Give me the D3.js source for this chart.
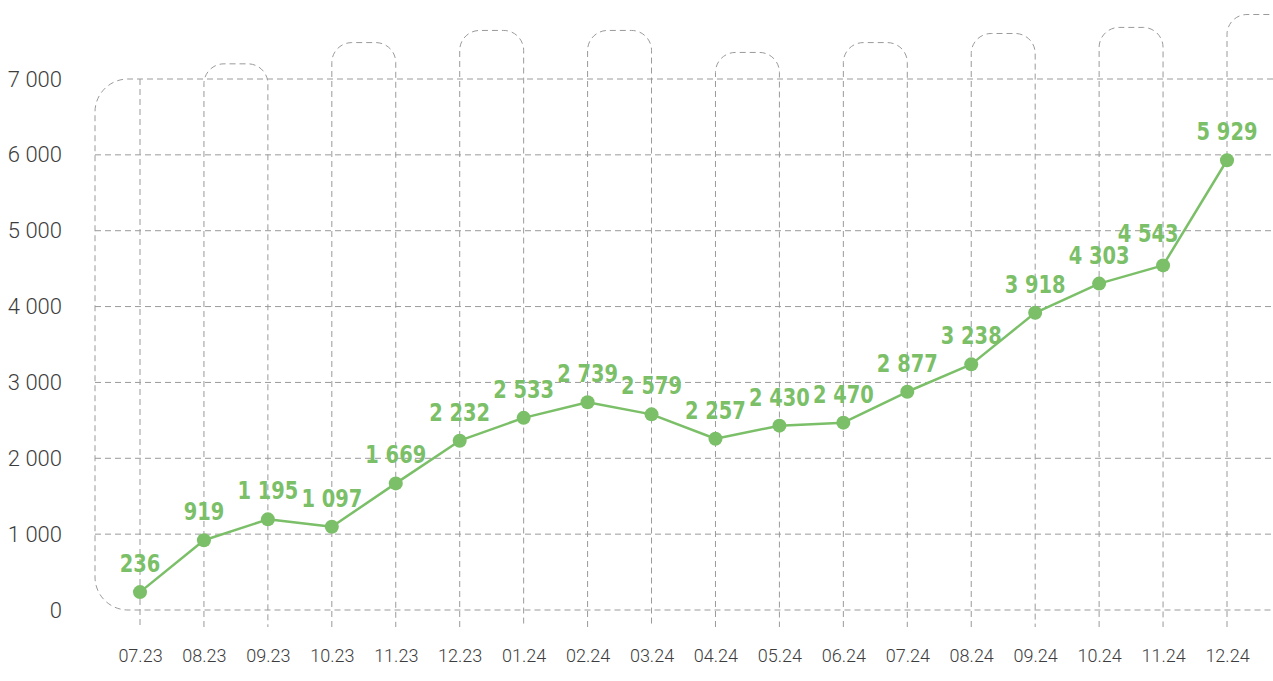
<!DOCTYPE html>
<html>
<head>
<meta charset="utf-8">
<title>chart</title>
<script src="https://cdn.jsdelivr.net/npm/d3@7"></script>
<style>
  body { margin: 0; background: #fff; }
  svg { display: block; }
</style>
</head>
<body>
<script>
// data
var months = ["07.23", "08.23", "09.23", "10.23", "11.23", "12.23", "01.24", "02.24", "03.24",
              "04.24", "05.24", "06.24", "07.24", "08.24", "09.24", "10.24", "11.24", "12.24"];
var values = [236, 919, 1195, 1097, 1669, 2232, 2533, 2739, 2579,
              2257, 2430, 2470, 2877, 3238, 3918, 4303, 4543, 5929];
var yTicks = [0, 1000, 2000, 3000, 4000, 5000, 6000, 7000];
// decorative rounded "tubes" over pairs of columns: [first month, top value]
var tubes = [["08.23", 7200], ["10.23", 7480], ["12.23", 7640], ["02.24", 7640], ["04.24", 7350],
             ["06.24", 7480], ["08.24", 7600], ["10.24", 7680], ["12.24", 7850]];

var W = 1273, H = 681;
var green = "#7bbf68", grid = "#9a9a9a", txt = "#3d3d3d";
var dash = "6,4";

var svg = d3.select("body").append("svg").attr("width", W).attr("height", H);

var x = d3.scalePoint().domain(months).range([140, 1227]);
var step = x.step();
var y = d3.scaleLinear().domain([0, 7000]).range([610, 79]);
var gridBottom = 627, left = 95, r = 33, tr = 20;

var fmt = d3.formatLocale({decimal: ".", thousands: " ", grouping: [3], currency: ["", ""]}).format(",");

var g = svg.append("g").attr("fill", "none").attr("stroke", grid)
  .attr("stroke-width", 1).attr("stroke-dasharray", dash);

// inner horizontal lines
g.selectAll("line.h").data(yTicks.slice(1, -1)).enter().append("line")
  .attr("class", "h")
  .attr("x1", left).attr("x2", W)
  .attr("y1", function(d) { return y(d); }).attr("y2", function(d) { return y(d); });

// outer frame: top line, rounded left side, bottom line
var yt = y(7000), yb = y(0);
g.append("path").attr("d",
  "M" + W + "," + yt + " H" + (left + r) +
  " A" + r + "," + r + " 0 0 0 " + left + "," + (yt + r) +
  " V" + (yb - r) +
  " A" + r + "," + r + " 0 0 0 " + (left + r) + "," + yb +
  " H" + W);

// first month plain vertical line
g.append("line").attr("x1", x(months[0])).attr("x2", x(months[0]))
  .attr("y1", yt).attr("y2", gridBottom);

// tubes
g.selectAll("path.tube").data(tubes).enter().append("path")
  .attr("class", "tube")
  .attr("d", function(d) {
    var x1 = x(d[0]), x2 = x1 + step, top = y(d[1]);
    return "M" + x1 + "," + gridBottom + " V" + (top + tr) +
      " A" + tr + "," + tr + " 0 0 1 " + (x1 + tr) + "," + top +
      " H" + (x2 - tr) +
      " A" + tr + "," + tr + " 0 0 1 " + x2 + "," + (top + tr) +
      " V" + gridBottom;
  });

// y axis labels
var yAxis = d3.axisLeft(y).tickValues(yTicks).tickSize(0).tickPadding(0).tickFormat(fmt);
svg.append("g").attr("transform", "translate(62,0)").call(yAxis)
  .call(function(s) { s.select(".domain").remove(); })
  .selectAll("text")
  .attr("fill", txt)
  .style("font-family", "Roboto, 'Noto Sans', sans-serif")
  .style("font-weight", 300)
  .style("font-size", "22px");

// x axis labels
var xAxis = d3.axisBottom(x).tickSize(0).tickPadding(0);
svg.append("g").attr("transform", "translate(0,649)").call(xAxis)
  .call(function(s) { s.select(".domain").remove(); })
  .selectAll("text")
  .attr("fill", txt)
  .attr("dy", "0.71em")
  .style("font-family", "Roboto, 'Noto Sans', sans-serif")
  .style("font-weight", 300)
  .style("font-size", "18px");

// line
var line = d3.line()
  .x(function(d, i) { return x(months[i]); })
  .y(function(d) { return y(d); });

svg.append("path").datum(values)
  .attr("fill", "none").attr("stroke", green).attr("stroke-width", 2.5)
  .attr("stroke-linejoin", "round")
  .attr("d", line);

svg.selectAll("circle.pt").data(values).enter().append("circle")
  .attr("class", "pt")
  .attr("cx", function(d, i) { return x(months[i]); })
  .attr("cy", function(d) { return y(d); })
  .attr("r", 7)
  .attr("fill", green);

// value labels (slightly narrowed condensed bold)
var nudge = {"11.24": -15};
svg.selectAll("text.val").data(values).enter().append("text")
  .attr("class", "val")
  .attr("transform", function(d, i) {
    var cx = x(months[i]) + (nudge[months[i]] || 0);
    var cy = y(d) - (nudge[months[i]] ? 23 : 20);
    return "translate(" + cx + "," + cy + ") scale(0.9,1)";
  })
  .attr("text-anchor", "middle")
  .attr("fill", green)
  .style("font-family", "'DejaVu Sans Condensed', 'DejaVu Sans', sans-serif")
  .style("font-weight", 700)
  .style("font-size", "24px")
  .text(function(d) { return fmt(d); });
</script>
</body>
</html>
